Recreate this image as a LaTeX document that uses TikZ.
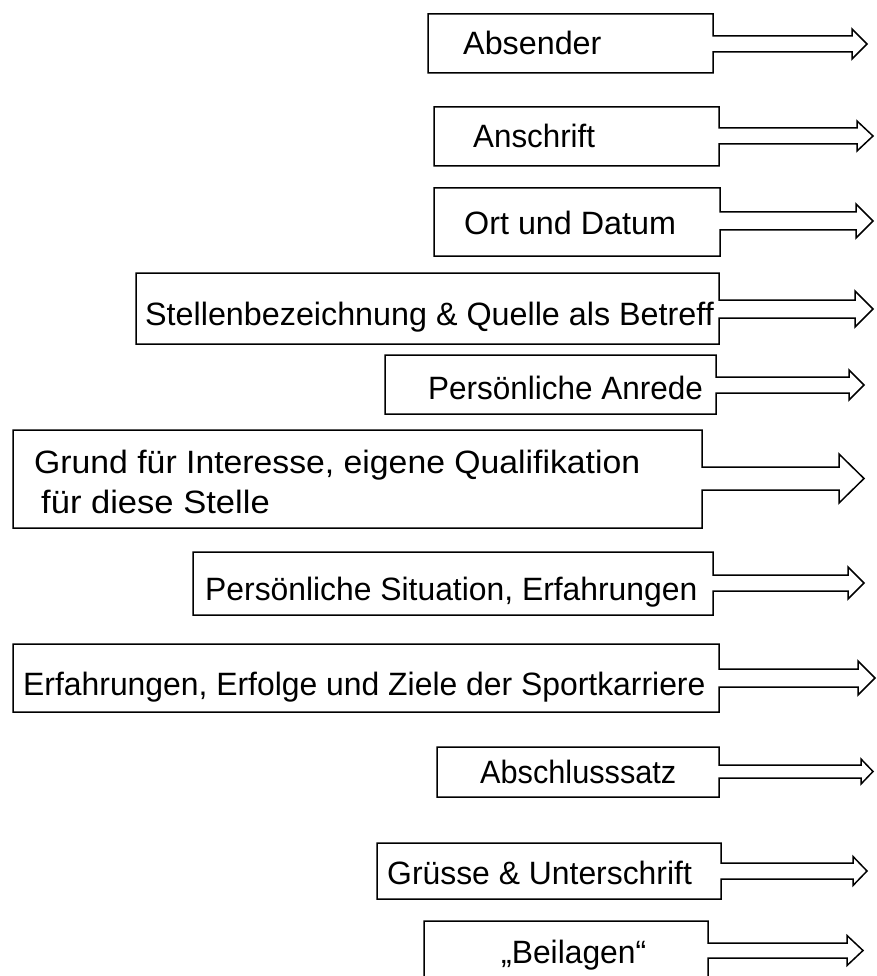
\documentclass[tikz,border=0pt]{standalone}
\usepackage{fontspec}
\setmainfont{Liberation Sans}
\tikzset{
  outline/.style={draw=black, line width=1.5pt, line join=miter},
  lbl/.style={font=\fontsize{32.3pt}{38pt}\selectfont, inner sep=0pt, anchor=base west}
}
% #1 left, #2 top, #3 right, #4 bottom, #5 shaft top, #6 shaft bottom,
% #7 head base x, #8 head half height, #9 tip x
\newcommand\bewbox[9]{%
  \draw[outline] (#1,#2) -- (#3,#2) -- (#3,#5) -- (#7,#5)
    -- (#7,{(#5+#6)/2-#8}) -- (#9,{(#5+#6)/2}) -- (#7,{(#5+#6)/2+#8})
    -- (#7,#6) -- (#3,#6) -- (#3,#4) -- (#1,#4) -- cycle;}
\newcommand\sx[2]{\scalebox{#1}[1]{#2}}
\begin{document}
\begin{tikzpicture}[x=1pt,y=-1pt]
\useasboundingbox (0,0) rectangle (877,976);
\clip (0,0) rectangle (877,976);
\fill[white] (0,0) rectangle (877,976);

\bewbox{428}{14}{713}{73}{36}{52}{852}{15}{867}
\node[lbl] (absender) at (463,55) {Absender};

\bewbox{434}{107}{719}{166}{128}{144}{857}{15}{873}
\node[lbl] (anschrift) at (473,148) {\sx{0.97}{Anschrift}};

\bewbox{434}{188}{720}{256}{212}{230}{856}{17}{873}
\node[lbl] (ort) at (464,235) {Ort und Datum};

\bewbox{136}{273}{719}{344}{300}{318}{855}{18}{873}
\node[lbl] (stelle) at (145,325) {Stellenbezeichnung \& Quelle als Betreff};

\bewbox{385}{355}{716}{414}{377}{393}{849}{15}{864}
\node[lbl] (anrede) at (428,399) {\sx{0.975}{Persönliche Anrede}};

\bewbox{13}{430}{702}{528}{467}{490}{839}{24.5}{864}
\node[lbl] (grundA) at (34,473) {\sx{1.045}{Grund für Interesse, eigene Qualifikation}};
\node[lbl] (grundB) at (41,513) {\sx{1.07}{für diese Stelle}};

\bewbox{193}{552}{713}{615}{575}{591}{848}{16}{864}
\node[lbl] (situation) at (205,600) {\sx{0.986}{Persönliche Situation, Erfahrungen}};

\bewbox{13}{644}{719}{712}{669}{687}{858}{17}{875}
\node[lbl] (sport) at (23,695) {\sx{0.987}{Erfahrungen, Erfolge und Ziele der Sportkarriere}};

\bewbox{437}{747}{719}{797}{765}{778}{861}{12.5}{873}
\node[lbl] (abschluss) at (480,783) {\sx{0.95}{Abschlusssatz}};

\bewbox{377}{843}{721}{899}{863}{879}{853}{14.5}{867}
\node[lbl] (gruesse) at (387,884) {\sx{0.987}{Grüsse \& Unterschrift}};

\bewbox{424}{921}{708}{990}{943}{958}{847}{15}{863}
\node[lbl] (beilagen) at (501,963) {\sx{0.985}{„Beilagen“}};
\end{tikzpicture}
\end{document}
